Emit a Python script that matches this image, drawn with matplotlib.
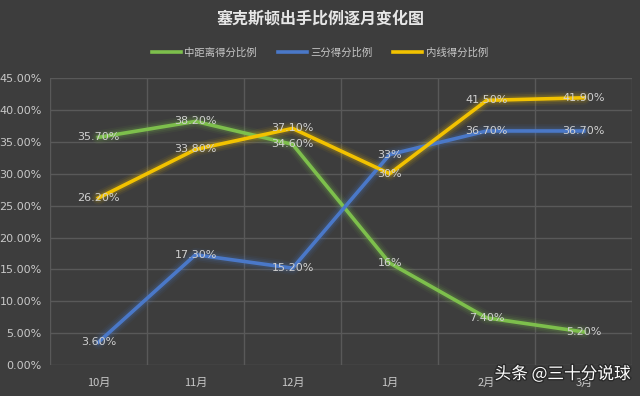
import numpy as np
import matplotlib.pyplot as plt
import matplotlib.patheffects as pe

plt.rcParams['font.family'] = ['Noto Sans CJK SC', 'DejaVu Sans']

months = ['10月', '11月', '12月', '1月', '2月', '3月']
mid_range = [35.7, 38.2, 34.6, 16.0, 7.4, 5.2]
three_pt = [3.6, 17.3, 15.2, 33.0, 36.7, 36.7]
paint = [26.2, 33.8, 37.1, 30.0, 41.5, 41.9]

mid_labels = ['35.70%', '38.20%', '34.60%', '16%', '7.40%', '5.20%']
three_labels = ['3.60%', '17.30%', '15.20%', '33%', '36.70%', '36.70%']
paint_labels = ['26.20%', '33.80%', '37.10%', '30%', '41.50%', '41.90%']

bg = '#3d3d3d'
grid_c = '#595959'
text_c = '#c8c8c8'

fig = plt.figure(figsize=(6.4, 3.96), dpi=100, facecolor=bg)
ax = fig.add_axes([0.078, 0.078, 0.910, 0.725], facecolor=bg)

x = np.arange(len(months))
series = [
    (mid_range, mid_labels, '#7dbf4c', '中距离得分比例'),
    (three_pt, three_labels, '#4a78c8', '三分得分比例'),
    (paint, paint_labels, '#f2c200', '内线得分比例'),
]

handles = []
for vals, labs, col, name in series:
    v = np.array(vals) / 100
    # soft glow under each line
    for lw, a in [(10, 0.06), (7.5, 0.09), (5, 0.14)]:
        ax.plot(x, v, color=col, lw=lw, alpha=a, solid_capstyle='round', zorder=2)
    h, = ax.plot(x, v, color=col, lw=2.6, solid_joinstyle='round', zorder=3, label=name)
    handles.append(h)
    for xi, yi, t in zip(x, v, labs):
        ax.text(xi, yi, t, ha='center', va='center', fontsize=8, color='#d0d0d0',
                family='DejaVu Sans', zorder=4)

ax.set_xlim(-0.5, 5.5)
ax.set_ylim(0, 0.45)
yt = np.arange(0, 0.451, 0.05)
ax.set_yticks(yt)
ax.set_yticklabels(['%.2f%%' % (t * 100) for t in yt], family='DejaVu Sans')
ax.set_xticks(x)
ax.set_xticklabels(months)
ax.set_xticks(np.arange(-0.5, 6, 1), minor=True)
ax.tick_params(axis='both', which='both', length=0, colors=text_c, labelsize=8)
ax.tick_params(axis='x', pad=9)
ax.tick_params(axis='y', pad=6)
ax.grid(True, axis='y', which='major', color=grid_c, lw=1)
ax.grid(True, axis='x', which='minor', color=grid_c, lw=1)
for s in ax.spines.values():
    s.set_visible(False)

fig.text(0.5, 0.953, '塞克斯顿出手比例逐月变化图', ha='center', va='center',
         fontsize=11.5, fontweight='bold', color='#e6e6e6')
fig.legend(handles=handles, loc='center', bbox_to_anchor=(0.5, 0.868), ncol=3,
           frameon=False, fontsize=7.5, labelcolor=text_c, handlelength=2.8,
           handletextpad=0.3, columnspacing=2.0)

fig.text(0.985, 0.055, '头条 @三十分说球', ha='right', va='center', fontsize=12,
         color='white', path_effects=[pe.withStroke(linewidth=2, foreground='#2a2a2a')])

fig.savefig('out.png', dpi=100, facecolor=bg)
